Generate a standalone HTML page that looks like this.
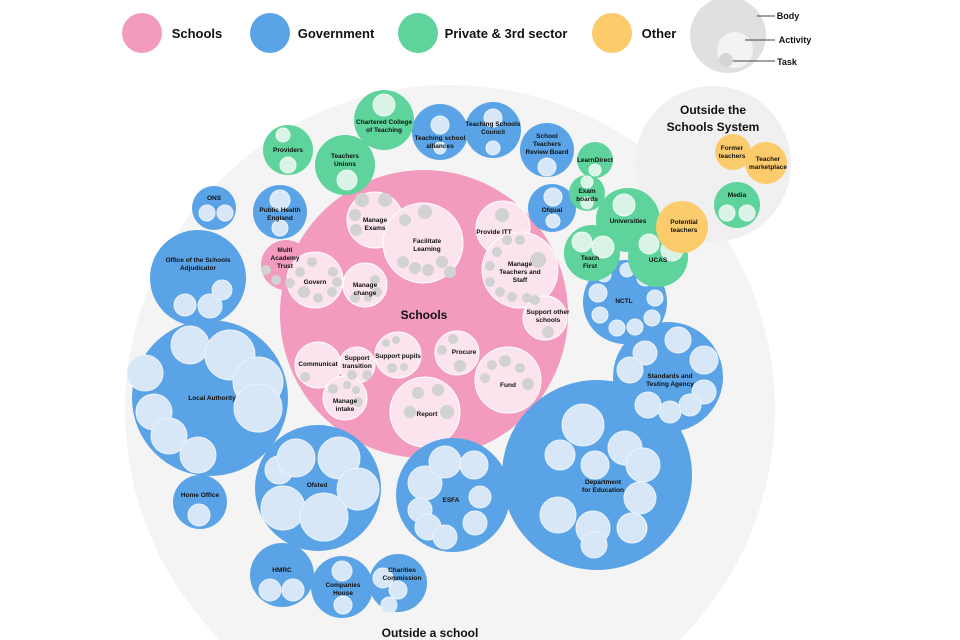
<!DOCTYPE html>
<html><head><meta charset="utf-8"><style>
html,body{margin:0;padding:0;background:#fff;width:960px;height:640px;overflow:hidden;}
svg{display:block;font-family:"Liberation Sans",sans-serif;font-weight:bold;}
text{fill:#111;text-anchor:middle;}
.b{fill:#5aa3e6}.g{fill:#5ed39b}.p{fill:#f29bbf}.o{fill:#fccb6b}
.lb{fill:#d7e7f8;stroke:#eaf3fc;stroke-width:1}.lg{fill:#d9f4e7;stroke:#eefaf4}.lp{fill:#fbe4ee;stroke:#fff;stroke-width:1}.t{fill:#d2d2d2}
</style></head><body>
<svg width="960" height="640" viewBox="0 0 960 640">
<!-- legend -->
<ellipse cx="142" cy="33" rx="20" ry="20" class="p"/><text x="197" y="38" font-size="13">Schools</text>
<ellipse cx="270" cy="33" rx="20" ry="20" class="b"/><text x="336" y="38" font-size="13">Government</text>
<ellipse cx="418" cy="33" rx="20" ry="20" class="g"/><text x="506" y="38" font-size="13">Private &amp; 3rd sector</text>
<ellipse cx="612" cy="33" rx="20" ry="20" class="o"/><text x="659" y="38" font-size="13">Other</text>
<ellipse cx="728" cy="35" rx="38" ry="38" fill="#e0e0e0"/>
<ellipse cx="735" cy="50" rx="18" ry="18" fill="#f3f3f3"/>
<circle cx="726" cy="60" r="7" fill="#d6d6d6"/>
<g stroke="#444" stroke-width="1"><line x1="757" y1="16" x2="775" y2="16"/><line x1="745" y1="40" x2="775" y2="40"/><line x1="733" y1="61" x2="775" y2="61"/></g>
<text x="788" y="19" font-size="9">Body</text><text x="795" y="43" font-size="9">Activity</text><text x="787" y="65" font-size="9">Task</text>

<!-- big grey -->
<circle cx="450" cy="410" r="325" fill="#f4f4f4"/>
<circle cx="713" cy="164" r="78" fill="#f0f0f0"/>
<text x="713" y="114" font-size="12">Outside the</text><text x="713" y="131" font-size="12">Schools System</text>

<!-- Schools -->
<circle cx="424" cy="314" r="144" class="p"/>
<circle cx="286" cy="265" r="25" class="p"/>
<g class="lp">
<circle cx="375" cy="220" r="28"/><circle cx="423" cy="243" r="40"/><circle cx="503" cy="228" r="27"/>
<circle cx="520" cy="270" r="38"/><circle cx="545" cy="318" r="22"/><circle cx="315" cy="280" r="28"/>
<circle cx="365" cy="285" r="22"/><circle cx="318" cy="365" r="23"/><circle cx="357" cy="365" r="18"/>
<circle cx="398" cy="355" r="23"/><circle cx="345" cy="398" r="22"/><circle cx="457" cy="353" r="22"/>
<circle cx="508" cy="380" r="33"/><circle cx="425" cy="412" r="35"/>
</g>
<g class="t">
<circle cx="362" cy="200" r="7"/><circle cx="385" cy="200" r="7"/><circle cx="355" cy="215" r="6"/><circle cx="356" cy="230" r="6"/><circle cx="405" cy="220" r="6"/>
<circle cx="425" cy="212" r="7"/><circle cx="403" cy="262" r="6"/><circle cx="415" cy="268" r="6"/><circle cx="428" cy="270" r="6"/><circle cx="442" cy="262" r="6"/><circle cx="450" cy="272" r="6"/>
<circle cx="502" cy="215" r="7"/><circle cx="507" cy="240" r="5"/><circle cx="520" cy="240" r="5"/><circle cx="497" cy="252" r="5"/><circle cx="490" cy="266" r="5"/><circle cx="490" cy="282" r="5"/><circle cx="500" cy="292" r="5"/><circle cx="512" cy="297" r="5"/><circle cx="527" cy="298" r="5"/><circle cx="538" cy="260" r="8"/><circle cx="535" cy="300" r="5"/>
<circle cx="548" cy="332" r="6"/><circle cx="266" cy="270" r="5"/><circle cx="276" cy="280" r="5"/><circle cx="290" cy="283" r="5"/>
<circle cx="312" cy="262" r="5"/><circle cx="300" cy="272" r="5"/><circle cx="333" cy="272" r="5"/><circle cx="304" cy="292" r="6"/><circle cx="318" cy="298" r="5"/><circle cx="332" cy="292" r="5"/><circle cx="337" cy="282" r="5"/>
<circle cx="375" cy="280" r="5"/><circle cx="355" cy="298" r="5"/><circle cx="368" cy="298" r="4"/><circle cx="377" cy="292" r="5"/>
<circle cx="305" cy="377" r="5"/><circle cx="352" cy="375" r="5"/><circle cx="367" cy="375" r="5"/><circle cx="386" cy="343" r="4"/><circle cx="396" cy="340" r="4"/><circle cx="392" cy="368" r="5"/><circle cx="404" cy="367" r="4"/>
<circle cx="333" cy="389" r="5"/><circle cx="347" cy="385" r="4"/><circle cx="356" cy="390" r="4"/><circle cx="358" cy="402" r="5"/>
<circle cx="453" cy="339" r="5"/><circle cx="442" cy="350" r="5"/><circle cx="460" cy="366" r="6"/>
<circle cx="492" cy="365" r="5"/><circle cx="505" cy="361" r="6"/><circle cx="520" cy="368" r="5"/><circle cx="485" cy="378" r="5"/><circle cx="528" cy="384" r="6"/>
<circle cx="418" cy="393" r="6"/><circle cx="438" cy="390" r="6"/><circle cx="410" cy="412" r="6"/><circle cx="447" cy="412" r="7"/>
</g>
<text x="424" y="319" font-size="12">Schools</text>
<g font-size="6.5">
<text x="375" y="222">Manage</text><text x="375" y="230">Exams</text>
<text x="427" y="243">Facilitate</text><text x="427" y="251">Learning</text>
<text x="494" y="234">Provide ITT</text>
<text x="520" y="266">Manage</text><text x="520" y="274">Teachers and</text><text x="520" y="282">Staff</text>
<text x="548" y="314">Support other</text><text x="548" y="322">schools</text>
<text x="285" y="252">Multi</text><text x="285" y="260">Academy</text><text x="285" y="268">Trust</text>
<text x="315" y="284">Govern</text>
<text x="365" y="287">Manage</text><text x="365" y="295">change</text>
<text x="318" y="366">Communicat</text>
<text x="357" y="360">Support</text><text x="357" y="368">transition</text>
<text x="398" y="358">Support pupils</text>
<text x="345" y="403">Manage</text><text x="345" y="411">intake</text>
<text x="464" y="354">Procure</text>
<text x="508" y="387">Fund</text><text x="427" y="416">Report</text>
</g>

<!-- Government -->
<g class="b">
<circle cx="214" cy="208" r="22"/><circle cx="280" cy="212" r="27"/><circle cx="198" cy="278" r="48"/>
<circle cx="210" cy="398" r="78"/><circle cx="200" cy="502" r="27"/><circle cx="318" cy="488" r="63"/>
<circle cx="282" cy="575" r="32"/><circle cx="342" cy="587" r="31"/><circle cx="398" cy="583" r="29"/>
<circle cx="453" cy="495" r="57"/><circle cx="597" cy="475" r="95"/><circle cx="668" cy="377" r="55"/>
<circle cx="625" cy="302" r="42"/><circle cx="552" cy="208" r="24"/><circle cx="440" cy="132" r="28"/><circle cx="547" cy="150" r="27"/><circle cx="493" cy="130" r="28"/>
</g>
<g class="lb">
<circle cx="207" cy="213" r="8"/><circle cx="225" cy="213" r="8"/><circle cx="280" cy="200" r="10"/><circle cx="280" cy="228" r="8"/>
<circle cx="185" cy="305" r="11"/><circle cx="210" cy="306" r="12"/><circle cx="222" cy="290" r="10"/>
<circle cx="190" cy="345" r="19"/><circle cx="145" cy="373" r="18"/><circle cx="230" cy="355" r="25"/><circle cx="258" cy="382" r="25"/><circle cx="258" cy="408" r="24"/><circle cx="154" cy="412" r="18"/><circle cx="169" cy="436" r="18"/><circle cx="198" cy="455" r="18"/>
<circle cx="199" cy="515" r="11"/>
<circle cx="279" cy="470" r="14"/><circle cx="296" cy="458" r="19"/><circle cx="339" cy="458" r="21"/><circle cx="358" cy="489" r="21"/><circle cx="283" cy="508" r="22"/><circle cx="324" cy="517" r="24"/>
<circle cx="270" cy="590" r="11"/><circle cx="293" cy="590" r="11"/><circle cx="342" cy="571" r="10"/><circle cx="343" cy="605" r="9"/><circle cx="383" cy="578" r="10"/><circle cx="398" cy="590" r="9"/><circle cx="389" cy="605" r="8"/>
<circle cx="425" cy="483" r="17"/><circle cx="445" cy="462" r="16"/><circle cx="474" cy="465" r="14"/><circle cx="420" cy="510" r="12"/><circle cx="428" cy="527" r="13"/><circle cx="445" cy="537" r="12"/><circle cx="475" cy="523" r="12"/><circle cx="480" cy="497" r="11"/>
<circle cx="583" cy="425" r="21"/><circle cx="625" cy="448" r="17"/><circle cx="643" cy="465" r="17"/><circle cx="560" cy="455" r="15"/><circle cx="595" cy="465" r="14"/><circle cx="640" cy="498" r="16"/><circle cx="558" cy="515" r="18"/><circle cx="593" cy="528" r="17"/><circle cx="632" cy="528" r="15"/><circle cx="594" cy="545" r="13"/>
<circle cx="645" cy="353" r="12"/><circle cx="678" cy="340" r="13"/><circle cx="704" cy="360" r="14"/><circle cx="630" cy="370" r="13"/><circle cx="704" cy="392" r="12"/><circle cx="648" cy="405" r="13"/><circle cx="670" cy="412" r="11"/><circle cx="690" cy="405" r="11"/>
<circle cx="604" cy="275" r="7"/><circle cx="627" cy="270" r="7"/><circle cx="645" cy="278" r="8"/><circle cx="598" cy="293" r="9"/><circle cx="655" cy="298" r="8"/><circle cx="600" cy="315" r="8"/><circle cx="652" cy="318" r="8"/><circle cx="617" cy="328" r="8"/><circle cx="635" cy="327" r="8"/>
<circle cx="553" cy="197" r="9"/><circle cx="553" cy="221" r="7"/><circle cx="547" cy="167" r="9"/><circle cx="440" cy="125" r="9"/><circle cx="440" cy="148" r="6"/><circle cx="493" cy="118" r="9"/><circle cx="493" cy="148" r="7"/>
</g>

<!-- Green -->
<g class="g">
<circle cx="288" cy="150" r="25"/><circle cx="345" cy="165" r="30"/><circle cx="384" cy="120" r="30"/>
<circle cx="595" cy="160" r="18"/><circle cx="587" cy="193" r="18"/><circle cx="628" cy="220" r="32"/>
<circle cx="592" cy="253" r="28"/><circle cx="658" cy="257" r="30"/><circle cx="737" cy="205" r="23"/>
</g>
<g class="lg">
<circle cx="283" cy="135" r="7"/><circle cx="288" cy="165" r="8"/><circle cx="347" cy="180" r="10"/><circle cx="384" cy="105" r="11"/>
<circle cx="595" cy="170" r="6"/><circle cx="587" cy="182" r="6"/><circle cx="587" cy="203" r="6"/>
<circle cx="624" cy="205" r="11"/><circle cx="582" cy="242" r="10"/><circle cx="603" cy="247" r="11"/><circle cx="649" cy="244" r="10"/><circle cx="672" cy="250" r="11"/>
<circle cx="727" cy="213" r="8"/><circle cx="747" cy="213" r="8"/>
</g>
<!-- Orange -->
<g class="o"><circle cx="733" cy="152" r="18"/><circle cx="766" cy="163" r="21"/><circle cx="682" cy="227" r="26"/></g>

<g font-size="6.5">
<text x="214" y="200">ONS</text><text x="280" y="212">Public Health</text><text x="280" y="220">England</text>
<text x="198" y="262">Office of the Schools</text><text x="198" y="270">Adjudicator</text>
<text x="212" y="400">Local Authority</text><text x="200" y="497">Home Office</text><text x="317" y="487">Ofsted</text>
<text x="282" y="572">HMRC</text><text x="343" y="587">Companies</text><text x="343" y="595">House</text>
<text x="402" y="572">Charities</text><text x="402" y="580">Commission</text>
<text x="451" y="502">ESFA</text><text x="603" y="484">Department</text><text x="603" y="492">for Education</text>
<text x="670" y="378">Standards and</text><text x="670" y="386">Testing Agency</text><text x="624" y="303">NCTL</text>
<text x="552" y="212">Ofqual</text><text x="440" y="140">Teaching school</text><text x="440" y="148">alliances</text>
<text x="547" y="138">School</text><text x="547" y="146">Teachers</text><text x="547" y="154">Review Board</text>
<text x="493" y="126">Teaching Schools</text><text x="493" y="134">Council</text>
<text x="288" y="152">Providers</text><text x="345" y="158">Teachers</text><text x="345" y="166">Unions</text>
<text x="384" y="124">Chartered College</text><text x="384" y="132">of Teaching</text>
<text x="595" y="162">LearnDirect</text><text x="587" y="193">Exam</text><text x="587" y="201">boards</text>
<text x="628" y="223">Universities</text><text x="590" y="260">Teach</text><text x="590" y="268">First</text><text x="658" y="262">UCAS</text>
<text x="737" y="197">Media</text><text x="732" y="150">Former</text><text x="732" y="158">teachers</text>
<text x="768" y="161">Teacher</text><text x="768" y="169">marketplace</text>
<text x="684" y="224">Potential</text><text x="684" y="232">teachers</text>
</g>
<text x="430" y="637" font-size="12">Outside a school</text>
</svg>
</body></html>
